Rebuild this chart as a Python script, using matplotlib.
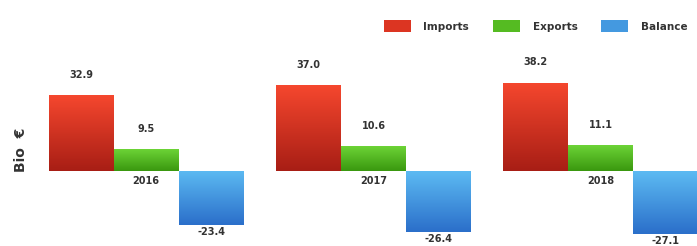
import numpy as np
import matplotlib.pyplot as plt
from matplotlib.colors import LinearSegmentedColormap
from matplotlib.patches import Patch

years = ['2016', '2017', '2018']
imports = [32.9, 37.0, 38.2]
exports = [9.5, 10.6, 11.1]
balance = [-23.4, -26.4, -27.1]

series = ['Imports', 'Exports', 'Balance']
# (top colour, bottom colour) for the gradient fill
grads = {
    'Imports': ('#f5472e', '#a81e15'),
    'Exports': ('#6cd336', '#3a980f'),
    'Balance': ('#5cbaf2', '#2b6fca'),
}
legend_cols = {'Imports': '#dc3522', 'Exports': '#55bb22', 'Balance': '#4499e0'}

fig = plt.figure(figsize=(6.97, 2.46), dpi=100)
ax = fig.add_axes([0, 0, 1, 1])
ax.set_xlim(-2.25, 8.48)
ax.set_ylim(-32.5, 74)
ax.axis('off')

group_x = np.arange(len(years)) * 3.5
width = 1.0
vals = [imports, exports, balance]

for i, name in enumerate(series):
    xs = group_x + (i - 1) * width
    bars = ax.bar(xs, vals[i], width=width, color='none', edgecolor='none')
    cmap = LinearSegmentedColormap.from_list(name, [grads[name][1], grads[name][0]])
    for b, v in zip(bars, vals[i]):
        x0, y0 = b.get_x(), b.get_y()
        w, h = b.get_width(), b.get_height()
        ymin, ymax = min(y0, y0 + h), max(y0, y0 + h)
        grad = np.linspace(0, 1, 64).reshape(-1, 1)
        im = ax.imshow(grad, cmap=cmap, origin='lower', aspect='auto',
                       extent=[x0, x0 + w, ymin, ymax], zorder=2)
        im.set_clip_path(b)
        if v >= 0:
            ax.annotate(f'{v:.1f}', (x0 + w / 2, ymax), xytext=(0, 11),
                        textcoords='offset points', ha='center', va='bottom',
                        fontsize=7, fontweight='bold', color='#333333')
        else:
            ax.annotate(f'{v:.1f}', (x0 + w / 2, ymin), xytext=(0, -1.5),
                        textcoords='offset points', ha='center', va='top',
                        fontsize=7, fontweight='bold', color='#333333')

for gx, yr in zip(group_x, years):
    ax.annotate(yr, (gx, 0), xytext=(0, -4), textcoords='offset points',
                ha='center', va='top', fontsize=7, fontweight='bold', color='#333333')

fig.text(0.03, 0.39, 'Bio  €', rotation=90, ha='center', va='center',
         fontsize=10, fontweight='bold', color='#333333')

handles = [Patch(facecolor=legend_cols[n], edgecolor='none', label=n) for n in series]
leg = fig.legend(handles=handles, loc='upper left', bbox_to_anchor=(0.537, 0.955),
                 ncol=3, frameon=False, fontsize=7.5, handlelength=2.6,
                 handleheight=1.3, columnspacing=2.3, handletextpad=1.2)
for t in leg.get_texts():
    t.set_fontweight('bold')
    t.set_color('#333333')

fig.savefig('out.png', dpi=100)
